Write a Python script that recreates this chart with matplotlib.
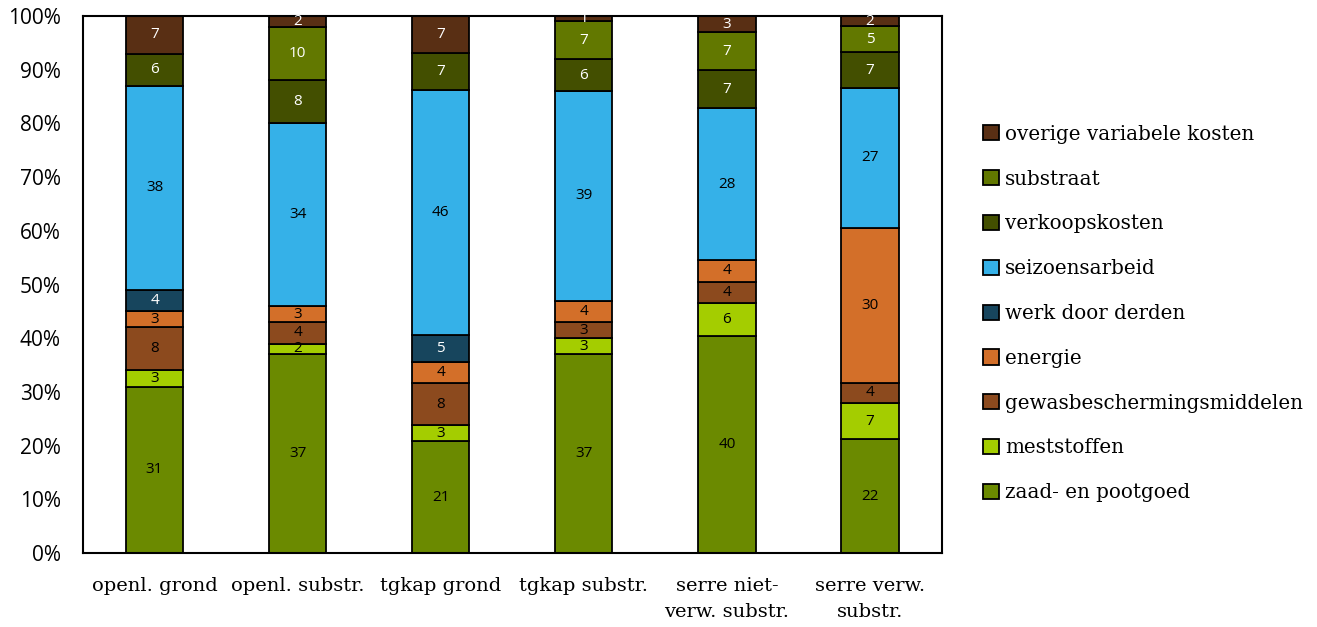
import numpy as np
import matplotlib
matplotlib.use("Agg")
import matplotlib.pyplot as plt
from matplotlib.ticker import PercentFormatter

# categorieen (x-as)
groepen = ["openl. grond", "openl. substr.", "tgkap grond", "tgkap substr.",
           "serre niet-\nverw. substr.", "serre verw.\nsubstr."]

# kostenposten, van onder naar boven
posten = ["zaad- en pootgoed", "meststoffen", "gewasbeschermingsmiddelen",
          "energie", "werk door derden", "seizoensarbeid", "verkoopskosten",
          "substraat", "overige variabele kosten"]

zaad = [31, 37, 21, 37, 40, 22]
meststoffen = [3, 2, 3, 3, 6, 7]
gewasbescherming = [8, 4, 8, 3, 4, 4]
energie = [3, 3, 4, 4, 4, 30]
werk_derden = [4, 0, 5, 0, 0, 0]
seizoensarbeid = [38, 34, 46, 39, 28, 27]
verkoopskosten = [6, 8, 7, 6, 7, 7]
substraat = [0, 10, 0, 7, 7, 5]
overige = [7, 2, 7, 1, 3, 2]

kleuren = ["#6b8a00", "#a4cd00", "#8c4a1e", "#d36f29", "#17455d",
           "#35b1e8", "#434f00", "#627800", "#592f14"]
tekstkleur = ["black", "black", "black", "black", "white",
              "black", "white", "white", "white"]

reeksen = [zaad, meststoffen, gewasbescherming, energie, werk_derden,
           seizoensarbeid, verkoopskosten, substraat, overige]

data = np.array(reeksen, dtype=float)
aandeel = data / data.sum(axis=0) * 100  # 100% gestapeld

fig = plt.figure(figsize=(13.17, 6.27), dpi=100)
ax = fig.add_axes([0.063, 0.118, 0.652, 0.8565])

x = np.arange(len(groepen))
onder = np.zeros(len(groepen))
for i, naam in enumerate(posten):
    balken = ax.bar(x, aandeel[i], 0.4, bottom=onder, color=kleuren[i],
                    edgecolor="black", linewidth=1.3, label=naam)
    for j, b in enumerate(balken):
        if data[i, j] > 0:
            ax.text(b.get_x() + b.get_width() / 2, onder[j] + aandeel[i, j] / 2,
                    f"{int(data[i, j])}", ha="center", va="center",
                    fontsize=11, color=tekstkleur[i], family="Open Sans")
    onder += aandeel[i]

ax.set_xlim(-0.5, len(groepen) - 0.5)
ax.set_ylim(0, 100)
ax.set_yticks(np.arange(0, 101, 10))
ax.yaxis.set_major_formatter(PercentFormatter(decimals=0))
ax.tick_params(length=0)
ax.tick_params(axis="y", labelsize=15, pad=16)
ax.tick_params(axis="x", pad=17)
ax.set_xticks(x)
ax.set_xticklabels(groepen, fontsize=14, family="DejaVu Serif", linespacing=1.6)
for lbl in ax.get_yticklabels():
    lbl.set_family("Open Sans")
for s in ax.spines.values():
    s.set_linewidth(1.5)

h, l = ax.get_legend_handles_labels()
fig.legend(h[::-1], l[::-1], loc="center left", bbox_to_anchor=(0.733, 0.5),
           frameon=False, prop={"family": "DejaVu Serif", "size": 14.3},
           handlelength=0.8, handleheight=0.8, handletextpad=0.3,
           labelspacing=1.3)

fig.savefig("out.png", dpi=100)
